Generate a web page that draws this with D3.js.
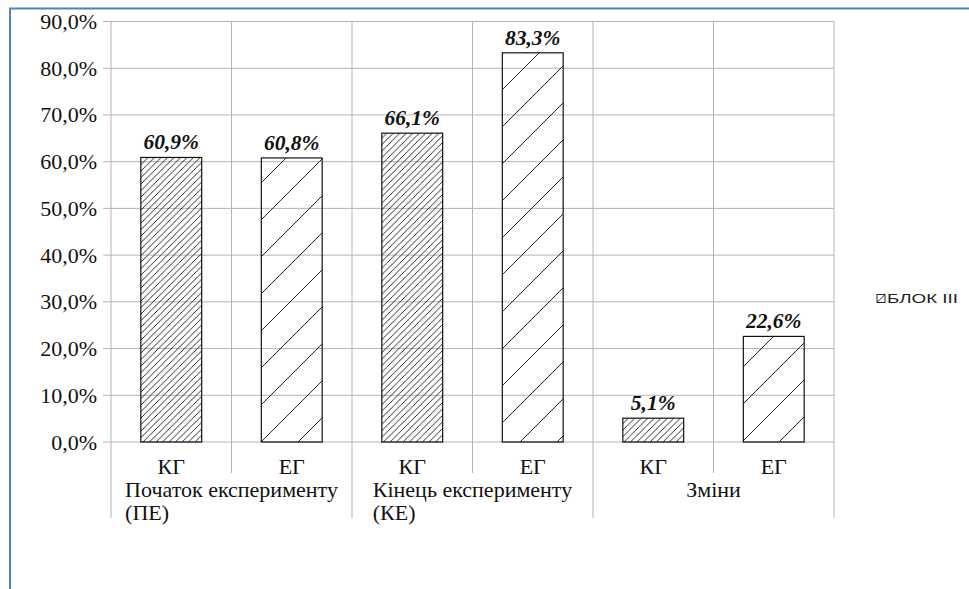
<!DOCTYPE html>
<html>
<head>
<meta charset="utf-8">
<script src="https://cdnjs.cloudflare.com/ajax/libs/d3/7.8.5/d3.min.js"></script>
</head>
<body style="margin:0">
<script>
/* DATA */
const groupLines = [["Початок експерименту", "(ПЕ)"], ["Кінець експерименту", "(КЕ)"], ["Зміни"]];
const subLabels = ["КГ", "ЕГ"];
const values = [60.9, 60.8, 66.1, 83.3, 5.1, 22.6];
const yTicks = [0, 10, 20, 30, 40, 50, 60, 70, 80, 90];
const seriesName = "БЛОК III";

/* CONSTANTS */
const width = 969, height = 589;
const plot = { left: 111, right: 834, top: 21.5, bottom: 442 };
const gridColor = "#b4b4b4";
const serif = "\"Liberation Serif\"";
const labelSize = 22;

const svg = d3.select("body")
  .append("svg")
  .attr("width", width)
  .attr("height", height);

// HATCH PATTERNS
const defs = svg.append("defs");
defs.append("pattern")
  .attr("id", "dense")
  .attr("patternUnits", "userSpaceOnUse")
  .attr("width", 6.5).attr("height", 6.5)
  .append("path")
  .attr("d", "M-1,7.5 L7.5,-1 M-1,1 L1,-1 M5.5,7.5 L7.5,5.5")
  .attr("stroke", "#111").attr("stroke-width", 0.9);
defs.append("pattern")
  .attr("id", "sparse")
  .attr("patternUnits", "userSpaceOnUse")
  .attr("width", 37).attr("height", 37)
  .append("path")
  .attr("d", "M-1,38 L38,-1 M-1,1 L1,-1 M36,38 L38,36")
  .attr("stroke", "#111").attr("stroke-width", 0.9);
defs.append("pattern")
  .attr("id", "legendHatch")
  .attr("patternUnits", "userSpaceOnUse")
  .attr("width", 8).attr("height", 8)
  .attr("x", 877).attr("y", 294.5)
  .append("path")
  .attr("d", "M0,8 L8,0")
  .attr("stroke", "#111").attr("stroke-width", 0.9);

// SCALES
const x = d3.scaleBand()
  .domain(d3.range(values.length))
  .range([plot.left, plot.right])
  .padding(0);
const y = d3.scaleLinear()
  .domain([0, 90])
  .range([plot.bottom, plot.top]);

// HORIZONTAL GRIDLINES (with tick stubs)
svg.selectAll("line.hgrid")
  .data(yTicks)
  .join("line")
  .attr("class", "hgrid")
  .attr("x1", plot.left - 8).attr("x2", plot.right)
  .attr("y1", d => y(d)).attr("y2", d => y(d))
  .attr("stroke", gridColor).attr("stroke-width", 1);

// VERTICAL GRIDLINES / CATEGORY SEPARATORS
svg.selectAll("line.vgrid")
  .data(d3.range(values.length + 1))
  .join("line")
  .attr("class", "vgrid")
  .attr("x1", i => i < values.length ? x(i) : plot.right)
  .attr("x2", i => i < values.length ? x(i) : plot.right)
  .attr("y1", plot.top)
  .attr("y2", i => i % 2 === 0 ? 518 : 473)
  .attr("stroke", gridColor).attr("stroke-width", 1);

// BARS
const barW = x.bandwidth() * 0.505;
svg.selectAll("rect.bar")
  .data(values)
  .join("rect")
  .attr("class", "bar")
  .attr("x", (d, i) => x(i) + (x.bandwidth() - barW) / 2)
  .attr("y", d => y(d))
  .attr("width", barW)
  .attr("height", d => y(0) - y(d))
  .attr("fill", (d, i) => i % 2 === 0 ? "url(#dense)" : "url(#sparse)")
  .attr("stroke", "#111")
  .attr("stroke-width", 1.2);

// Y TICK LABELS
svg.selectAll("text.ytick")
  .data(yTicks)
  .join("text")
  .attr("class", "ytick")
  .attr("x", 97)
  .attr("y", d => y(d) + 7.5)
  .attr("text-anchor", "end")
  .style("font-family", serif)
  .style("font-size", labelSize + "px")
  .style("fill", "#111")
  .text(d => d.toFixed(1).replace(".", ",") + "%");

// VALUE LABELS
svg.selectAll("text.value")
  .data(values)
  .join("text")
  .attr("class", "value")
  .attr("x", (d, i) => x(i) + x.bandwidth() / 2)
  .attr("y", d => y(d) - 8)
  .attr("text-anchor", "middle")
  .style("font-family", serif)
  .style("font-size", "21.5px")
  .style("font-weight", "bold")
  .style("font-style", "italic")
  .style("fill", "#111")
  .text(d => d.toFixed(1).replace(".", ",") + "%");

// SUB CATEGORY LABELS
svg.selectAll("text.sub")
  .data(values)
  .join("text")
  .attr("class", "sub")
  .attr("x", (d, i) => x(i) + x.bandwidth() / 2)
  .attr("y", 474)
  .attr("text-anchor", "middle")
  .style("font-family", serif)
  .style("font-size", labelSize + "px")
  .style("fill", "#111")
  .text((d, i) => subLabels[i % 2]);

// GROUP LABELS: block centred on the group, lines left aligned
const ctx = document.createElement("canvas").getContext("2d");
ctx.font = labelSize + "px \"Liberation Serif\"";
const flat = groupLines.flatMap((lines, g) => {
  const maxW = d3.max(lines, l => ctx.measureText(l).width);
  const left = x(g * 2) + x.bandwidth() - maxW / 2;
  return lines.map((l, i) => ({ text: l, x: left, line: i }));
});
svg.selectAll("text.group")
  .data(flat)
  .join("text")
  .attr("class", "group")
  .attr("x", d => d.x)
  .attr("y", d => 497 + d.line * 23)
  .style("font-family", serif)
  .style("font-size", labelSize + "px")
  .style("fill", "#111")
  .text(d => d.text);

// LEGEND
svg.append("rect")
  .attr("x", 877).attr("y", 294.5)
  .attr("width", 8).attr("height", 8)
  .attr("fill", "url(#legendHatch)")
  .attr("stroke", "#111").attr("stroke-width", 0.9);
svg.append("text")
  .attr("x", 887).attr("y", 302.5)
  .attr("textLength", 71)
  .attr("lengthAdjust", "spacingAndGlyphs")
  .style("font-family", "\"Liberation Sans\"")
  .style("font-size", "12px")
  .style("fill", "#222")
  .text(seriesName);

// FRAME
svg.append("path")
  .attr("d", `M10,${height} L10,8.5 L${width},8.5`)
  .attr("fill", "none")
  .attr("stroke", "#4f81bd")
  .attr("stroke-width", 2);
</script>
</body>
</html>
